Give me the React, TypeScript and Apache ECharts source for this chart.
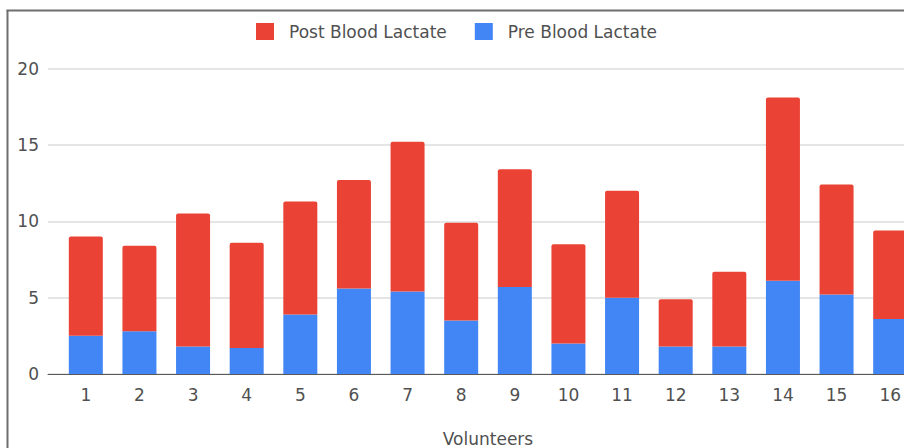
import React, { useEffect, useRef } from "react";
import * as echarts from "echarts";

const categories = ["1", "2", "3", "4", "5", "6", "7", "8", "9", "10", "11", "12", "13", "14", "15", "16"];
const preBloodLactate = [2.5, 2.8, 1.8, 1.7, 3.9, 5.6, 5.4, 3.5, 5.7, 2.0, 5.0, 1.8, 1.8, 6.1, 5.2, 3.6];
const postBloodLactate = [6.5, 5.6, 8.7, 6.9, 7.4, 7.1, 9.8, 6.4, 7.7, 6.5, 7.0, 3.1, 4.9, 12.0, 7.2, 5.8];
const yMin = 0;
const yMax = 20;
const yInterval = 5;

const FONT = "DejaVu Sans";
const TEXT = "#505050";

export default function App() {
  const ref = useRef<HTMLDivElement>(null);

  useEffect(() => {
    if (!ref.current) return;
    const chart = echarts.init(ref.current, null, { renderer: "svg" });
    const gridTop = 68.5;
    const gridHeight = 305.5;
    chart.setOption({
      animation: false,
      backgroundColor: "#ffffff",
      textStyle: { fontFamily: FONT },
      legend: {
        data: ["Post Blood Lactate", "Pre Blood Lactate"],
        left: 256,
        top: 23,
        padding: 0,
        icon: "rect",
        itemWidth: 18,
        itemHeight: 17,
        itemGap: 28,
        itemStyle: { borderRadius: 2 },
        textStyle: { fontFamily: FONT, fontSize: 17, color: TEXT, padding: [0, 0, 0, 10] },
      },
      grid: [
        { left: 48, top: gridTop, width: 880, height: gridHeight, outerBoundsMode: "none", containLabel: false },
        { left: 59, top: gridTop, width: 858, height: gridHeight, outerBoundsMode: "none", containLabel: false },
      ],
      xAxis: [
        {
          gridIndex: 0,
          type: "category",
          data: categories,
          axisLine: { show: true, lineStyle: { color: "#5a5a5a", width: 1 } },
          axisTick: { show: false },
          axisLabel: { show: false },
          splitLine: { show: false },
        },
        {
          gridIndex: 1,
          type: "category",
          data: categories,
          axisLine: { show: false },
          axisTick: { show: false },
          axisLabel: { fontFamily: FONT, fontSize: 17, color: TEXT, margin: 12 },
          name: "Volunteers",
          nameLocation: "middle",
          nameGap: 56,
          nameTextStyle: { fontFamily: FONT, fontSize: 17, color: TEXT },
        },
      ],
      yAxis: [
        {
          gridIndex: 0,
          type: "value",
          min: yMin,
          max: yMax,
          interval: yInterval,
          axisLine: { show: false },
          axisTick: { show: false },
          axisLabel: { fontFamily: FONT, fontSize: 17, color: TEXT, margin: 9 },
          splitLine: { show: true, lineStyle: { color: "#dddddd", width: 1.5 } },
        },
        {
          gridIndex: 1,
          type: "value",
          min: yMin,
          max: yMax,
          interval: yInterval,
          show: false,
        },
      ],
      series: [
        {
          name: "Pre Blood Lactate",
          type: "bar",
          stack: "total",
          xAxisIndex: 1,
          yAxisIndex: 1,
          barWidth: 34,
          itemStyle: { color: "#4285f4" },
          data: preBloodLactate,
        },
        {
          name: "Post Blood Lactate",
          type: "bar",
          stack: "total",
          xAxisIndex: 1,
          yAxisIndex: 1,
          barWidth: 34,
          itemStyle: { color: "#ea4335", borderRadius: [2, 2, 0, 0] },
          data: postBloodLactate,
        },
      ],
      graphic: [
        {
          type: "line",
          shape: { x1: 6.5, y1: 10.5, x2: 904, y2: 10.5 },
          style: { stroke: "#6e6e6e", lineWidth: 2 },
          silent: true,
        },
        {
          type: "line",
          shape: { x1: 7.5, y1: 10, x2: 7.5, y2: 448 },
          style: { stroke: "#6e6e6e", lineWidth: 2 },
          silent: true,
        },
      ],
    });
    return () => chart.dispose();
  }, []);

  return (
    <div
      ref={ref}
      style={{ position: "absolute", left: 0, top: 0, width: 904, height: 448 }}
    />
  );
}
